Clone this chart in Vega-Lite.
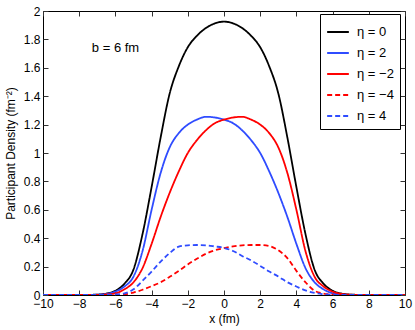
{
  "$schema": "https://vega.github.io/schema/vega-lite/v6.json",
  "width": 362,
  "height": 284,
  "autosize": "none",
  "padding": {"left": 43, "top": 11, "right": 10, "bottom": 35},
  "config": {
    "view": {"stroke": "black", "strokeWidth": 1},
    "font": "Liberation Sans",
    "axis": {
      "grid": false,
      "domain": false,
      "tickColor": "#333333",
      "tickSize": -5,
      "labelPadding": 8,
      "labelFlush": false,
      "labelOverlap": false,
      "labelColor": "black",
      "labelFontSize": 12,
      "labelFont": "Liberation Sans",
      "titleFont": "Liberation Sans",
      "titleFontSize": 12,
      "titleFontWeight": "normal",
      "titleColor": "black"
    },
    "legend": {
      "orient": "none",
      "legendX": 277,
      "legendY": 3,
      "strokeColor": "black",
      "fillColor": "white",
      "padding": 6,
      "symbolType": "stroke",
      "symbolSize": 470,
      "symbolStrokeWidth": 2,
      "labelFontSize": 13,
      "labelFont": "Liberation Sans",
      "labelColor": "black",
      "labelOffset": 7,
      "rowPadding": 2
    }
  },
  "layer": [
    {
      "data": {"values": [
        {"eta": "η = 0", "x": -10, "y": 0}, {"eta": "η = 0", "x": -8, "y": 0}, {"eta": "η = 0", "x": -7, "y": 0.003}, {"eta": "η = 0", "x": -6.5, "y": 0.01}, {"eta": "η = 0", "x": -6, "y": 0.03}, {"eta": "η = 0", "x": -5.5, "y": 0.08}, {"eta": "η = 0", "x": -5, "y": 0.18}, {"eta": "η = 0", "x": -4.5, "y": 0.43}, {"eta": "η = 0", "x": -4, "y": 0.76}, {"eta": "η = 0", "x": -3.5, "y": 1.11}, {"eta": "η = 0", "x": -3, "y": 1.42}, {"eta": "η = 0", "x": -2.5, "y": 1.61}, {"eta": "η = 0", "x": -2, "y": 1.745}, {"eta": "η = 0", "x": -1.5, "y": 1.825}, {"eta": "η = 0", "x": -1, "y": 1.88}, {"eta": "η = 0", "x": -0.5, "y": 1.913}, {"eta": "η = 0", "x": 0, "y": 1.925}, {"eta": "η = 0", "x": 0.5, "y": 1.913}, {"eta": "η = 0", "x": 1, "y": 1.88}, {"eta": "η = 0", "x": 1.5, "y": 1.825}, {"eta": "η = 0", "x": 2, "y": 1.745}, {"eta": "η = 0", "x": 2.5, "y": 1.61}, {"eta": "η = 0", "x": 3, "y": 1.42}, {"eta": "η = 0", "x": 3.5, "y": 1.11}, {"eta": "η = 0", "x": 4, "y": 0.76}, {"eta": "η = 0", "x": 4.5, "y": 0.43}, {"eta": "η = 0", "x": 5, "y": 0.18}, {"eta": "η = 0", "x": 5.5, "y": 0.08}, {"eta": "η = 0", "x": 6, "y": 0.03}, {"eta": "η = 0", "x": 6.5, "y": 0.01}, {"eta": "η = 0", "x": 7, "y": 0.003}, {"eta": "η = 0", "x": 8, "y": 0}, {"eta": "η = 0", "x": 10, "y": 0},

        {"eta": "η = 2", "x": -10, "y": 0}, {"eta": "η = 2", "x": -8, "y": 0}, {"eta": "η = 2", "x": -7, "y": 0.002}, {"eta": "η = 2", "x": -6.5, "y": 0.008}, {"eta": "η = 2", "x": -6, "y": 0.024}, {"eta": "η = 2", "x": -5.5, "y": 0.06}, {"eta": "η = 2", "x": -5, "y": 0.13}, {"eta": "η = 2", "x": -4.5, "y": 0.31}, {"eta": "η = 2", "x": -4, "y": 0.6}, {"eta": "η = 2", "x": -3.5, "y": 0.86}, {"eta": "η = 2", "x": -3, "y": 1.04}, {"eta": "η = 2", "x": -2.5, "y": 1.14}, {"eta": "η = 2", "x": -2, "y": 1.2}, {"eta": "η = 2", "x": -1.5, "y": 1.235}, {"eta": "η = 2", "x": -1, "y": 1.255}, {"eta": "η = 2", "x": -0.5, "y": 1.25}, {"eta": "η = 2", "x": 0, "y": 1.235}, {"eta": "η = 2", "x": 0.5, "y": 1.21}, {"eta": "η = 2", "x": 1, "y": 1.16}, {"eta": "η = 2", "x": 1.5, "y": 1.09}, {"eta": "η = 2", "x": 2, "y": 1.0}, {"eta": "η = 2", "x": 2.5, "y": 0.87}, {"eta": "η = 2", "x": 3, "y": 0.72}, {"eta": "η = 2", "x": 3.5, "y": 0.55}, {"eta": "η = 2", "x": 4, "y": 0.36}, {"eta": "η = 2", "x": 4.5, "y": 0.19}, {"eta": "η = 2", "x": 5, "y": 0.09}, {"eta": "η = 2", "x": 5.5, "y": 0.04}, {"eta": "η = 2", "x": 6, "y": 0.012}, {"eta": "η = 2", "x": 6.5, "y": 0.004}, {"eta": "η = 2", "x": 7, "y": 0.001}, {"eta": "η = 2", "x": 8, "y": 0}, {"eta": "η = 2", "x": 10, "y": 0},

        {"eta": "η = −2", "x": -10, "y": 0}, {"eta": "η = −2", "x": -8, "y": 0}, {"eta": "η = −2", "x": -7, "y": 0.001}, {"eta": "η = −2", "x": -6.5, "y": 0.004}, {"eta": "η = −2", "x": -6, "y": 0.012}, {"eta": "η = −2", "x": -5.5, "y": 0.04}, {"eta": "η = −2", "x": -5, "y": 0.09}, {"eta": "η = −2", "x": -4.5, "y": 0.19}, {"eta": "η = −2", "x": -4, "y": 0.36}, {"eta": "η = −2", "x": -3.5, "y": 0.55}, {"eta": "η = −2", "x": -3, "y": 0.72}, {"eta": "η = −2", "x": -2.5, "y": 0.87}, {"eta": "η = −2", "x": -2, "y": 1.0}, {"eta": "η = −2", "x": -1.5, "y": 1.09}, {"eta": "η = −2", "x": -1, "y": 1.16}, {"eta": "η = −2", "x": -0.5, "y": 1.21}, {"eta": "η = −2", "x": 0, "y": 1.235}, {"eta": "η = −2", "x": 0.5, "y": 1.25}, {"eta": "η = −2", "x": 1, "y": 1.255}, {"eta": "η = −2", "x": 1.5, "y": 1.235}, {"eta": "η = −2", "x": 2, "y": 1.2}, {"eta": "η = −2", "x": 2.5, "y": 1.14}, {"eta": "η = −2", "x": 3, "y": 1.04}, {"eta": "η = −2", "x": 3.5, "y": 0.86}, {"eta": "η = −2", "x": 4, "y": 0.6}, {"eta": "η = −2", "x": 4.5, "y": 0.31}, {"eta": "η = −2", "x": 5, "y": 0.13}, {"eta": "η = −2", "x": 5.5, "y": 0.06}, {"eta": "η = −2", "x": 6, "y": 0.024}, {"eta": "η = −2", "x": 6.5, "y": 0.008}, {"eta": "η = −2", "x": 7, "y": 0.002}, {"eta": "η = −2", "x": 8, "y": 0}, {"eta": "η = −2", "x": 10, "y": 0},

        {"eta": "η = −4", "x": -10, "y": 0}, {"eta": "η = −4", "x": -8, "y": 0}, {"eta": "η = −4", "x": -7, "y": 0}, {"eta": "η = −4", "x": -6.5, "y": 0.0005}, {"eta": "η = −4", "x": -6, "y": 0.001}, {"eta": "η = −4", "x": -5.5, "y": 0.005}, {"eta": "η = −4", "x": -5, "y": 0.017}, {"eta": "η = −4", "x": -4.5, "y": 0.037}, {"eta": "η = −4", "x": -4, "y": 0.062}, {"eta": "η = −4", "x": -3.5, "y": 0.09}, {"eta": "η = −4", "x": -3, "y": 0.128}, {"eta": "η = −4", "x": -2.5, "y": 0.17}, {"eta": "η = −4", "x": -2, "y": 0.215}, {"eta": "η = −4", "x": -1.5, "y": 0.255}, {"eta": "η = −4", "x": -1, "y": 0.29}, {"eta": "η = −4", "x": -0.5, "y": 0.315}, {"eta": "η = −4", "x": 0, "y": 0.33}, {"eta": "η = −4", "x": 0.5, "y": 0.342}, {"eta": "η = −4", "x": 1, "y": 0.35}, {"eta": "η = −4", "x": 1.5, "y": 0.352}, {"eta": "η = −4", "x": 2, "y": 0.352}, {"eta": "η = −4", "x": 2.5, "y": 0.345}, {"eta": "η = −4", "x": 3, "y": 0.315}, {"eta": "η = −4", "x": 3.5, "y": 0.26}, {"eta": "η = −4", "x": 4, "y": 0.17}, {"eta": "η = −4", "x": 4.5, "y": 0.09}, {"eta": "η = −4", "x": 5, "y": 0.03}, {"eta": "η = −4", "x": 5.5, "y": 0.01}, {"eta": "η = −4", "x": 6, "y": 0.003}, {"eta": "η = −4", "x": 6.5, "y": 0}, {"eta": "η = −4", "x": 7, "y": 0}, {"eta": "η = −4", "x": 8, "y": 0}, {"eta": "η = −4", "x": 10, "y": 0},

        {"eta": "η = 4", "x": -10, "y": 0}, {"eta": "η = 4", "x": -8, "y": 0}, {"eta": "η = 4", "x": -7, "y": 0}, {"eta": "η = 4", "x": -6.5, "y": 0.001}, {"eta": "η = 4", "x": -6, "y": 0.004}, {"eta": "η = 4", "x": -5.5, "y": 0.012}, {"eta": "η = 4", "x": -5, "y": 0.04}, {"eta": "η = 4", "x": -4.5, "y": 0.1}, {"eta": "η = 4", "x": -4, "y": 0.165}, {"eta": "η = 4", "x": -3.5, "y": 0.235}, {"eta": "η = 4", "x": -3, "y": 0.295}, {"eta": "η = 4", "x": -2.5, "y": 0.34}, {"eta": "η = 4", "x": -2, "y": 0.35}, {"eta": "η = 4", "x": -1.5, "y": 0.352}, {"eta": "η = 4", "x": -1, "y": 0.35}, {"eta": "η = 4", "x": -0.5, "y": 0.342}, {"eta": "η = 4", "x": 0, "y": 0.332}, {"eta": "η = 4", "x": 0.5, "y": 0.31}, {"eta": "η = 4", "x": 1, "y": 0.275}, {"eta": "η = 4", "x": 1.5, "y": 0.243}, {"eta": "η = 4", "x": 2, "y": 0.205}, {"eta": "η = 4", "x": 2.5, "y": 0.165}, {"eta": "η = 4", "x": 3, "y": 0.13}, {"eta": "η = 4", "x": 3.5, "y": 0.09}, {"eta": "η = 4", "x": 4, "y": 0.06}, {"eta": "η = 4", "x": 4.5, "y": 0.032}, {"eta": "η = 4", "x": 5, "y": 0.015}, {"eta": "η = 4", "x": 5.5, "y": 0.005}, {"eta": "η = 4", "x": 6, "y": 0.001}, {"eta": "η = 4", "x": 6.5, "y": 0}, {"eta": "η = 4", "x": 7, "y": 0}, {"eta": "η = 4", "x": 8, "y": 0}, {"eta": "η = 4", "x": 10, "y": 0}
      ]},
      "mark": {"type": "line", "strokeWidth": 1.8, "interpolate": "monotone", "clip": true},
      "encoding": {
        "x": {"field": "x", "type": "quantitative",
              "scale": {"domain": [-10, 10], "nice": false},
              "axis": {"title": "x (fm)", "values": [-10, -8, -6, -4, -2, 0, 2, 4, 6, 8, 10], "format": "d", "titlePadding": 4}},
        "y": {"field": "y", "type": "quantitative",
              "scale": {"domain": [0, 2], "nice": false},
              "axis": {"title": "Participant Density (fm⁻²)", "values": [0, 0.2, 0.4, 0.6, 0.8, 1, 1.2, 1.4, 1.6, 1.8, 2], "format": "~g", "titlePadding": 6}},
        "color": {"field": "eta", "type": "nominal",
                  "sort": ["η = 0", "η = 2", "η = −2", "η = −4", "η = 4"],
                  "scale": {"domain": ["η = 0", "η = 2", "η = −2", "η = −4", "η = 4"], "range": ["#000000", "#2f4cff", "#ff0000", "#ff0000", "#2f4cff"]},
                  "legend": {"title": null}},
        "strokeDash": {"field": "eta", "type": "nominal",
                  "sort": ["η = 0", "η = 2", "η = −2", "η = −4", "η = 4"],
                  "scale": {"domain": ["η = 0", "η = 2", "η = −2", "η = −4", "η = 4"], "range": [[1, 0], [1, 0], [1, 0], [5, 3], [5, 3]]},
                  "legend": {"title": null}}
      }
    },
    {
      "data": {"values": [{"x": -7.3, "y": 1.74, "label": "b = 6 fm"}]},
      "mark": {"type": "text", "align": "left", "baseline": "middle", "fontSize": 13, "font": "Liberation Sans", "color": "black"},
      "encoding": {
        "x": {"field": "x", "type": "quantitative", "scale": {"domain": [-10, 10], "nice": false},
              "axis": {"orient": "top", "labels": false, "title": null, "values": [-10, -8, -6, -4, -2, 0, 2, 4, 6, 8, 10]}},
        "y": {"field": "y", "type": "quantitative", "scale": {"domain": [0, 2], "nice": false},
              "axis": {"orient": "right", "labels": false, "title": null, "values": [0, 0.2, 0.4, 0.6, 0.8, 1, 1.2, 1.4, 1.6, 1.8, 2]}},
        "text": {"field": "label"}
      }
    }
  ],
  "resolve": {"axis": {"x": "independent", "y": "independent"}}
}
